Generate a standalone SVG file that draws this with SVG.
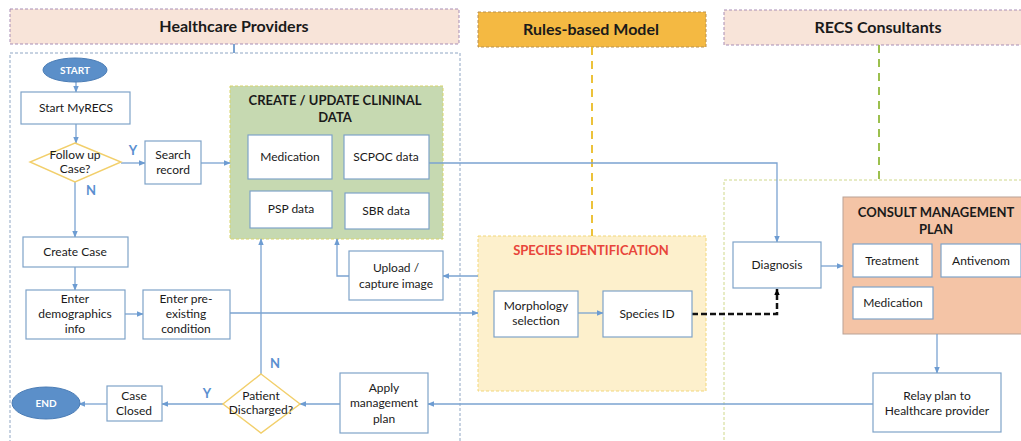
<svg xmlns="http://www.w3.org/2000/svg" width="1021" height="441" viewBox="0 0 1021 441">
<defs>
<marker id="ar" viewBox="0 0 10 10" refX="9" refY="5" markerWidth="7" markerHeight="7" orient="auto-start-reverse" markerUnits="userSpaceOnUse"><path d="M0,1 L10,5 L0,9 z" fill="#6d9cd2"/></marker>
<marker id="ak" viewBox="0 0 10 10" refX="9" refY="5" markerWidth="7" markerHeight="7" orient="auto" markerUnits="userSpaceOnUse"><path d="M0,1 L10,5 L0,9 z" fill="#000"/></marker>
<style>
text{font-family:Lato,"Open Sans","Liberation Sans",sans-serif;fill:#1a1a1a;text-anchor:middle}
.t{font-size:12px}
.h{font-size:16px;font-weight:bold}
.g{font-size:13px;font-weight:bold}
.yn{font-size:13px;font-weight:bold;fill:#5b8fd0}
.box{fill:#fff;stroke:#7fa3c9;stroke-width:1.2}
.dia{fill:#fff;stroke:#f2cf6b;stroke-width:1.4}
.c{fill:none;stroke:#7ba3d1;stroke-width:1.3}
.ell{fill:#5b8fc9;stroke:#4a7cb5}
.et{font-size:10px;font-weight:bold;fill:#fff}
</style>
</defs>
<g id="lanes">
<rect x="10" y="9" width="449" height="35" fill="#f8e4d9" stroke="#a88db5" stroke-dasharray="3 2"/>
<text class="h" x="234" y="32">Healthcare Providers</text>
<rect x="10" y="53" width="450" height="395" fill="none" stroke="#8fa6c4" stroke-dasharray="3 2"/>
<line x1="234" y1="44" x2="234" y2="53" stroke="#7ba3d1" stroke-width="2"/>
<rect x="478" y="12" width="228" height="35" fill="#f4b942" stroke="#b89050" stroke-dasharray="3 2"/>
<text class="h" x="591" y="35">Rules-based Model</text>
<line x1="592" y1="47" x2="592" y2="236" stroke="#ecc23a" stroke-width="2" stroke-dasharray="8 6"/>
<rect x="724" y="10" width="310" height="35" fill="#f8e4d9" stroke="#a88db5" stroke-dasharray="3 2"/>
<text class="h" x="878" y="33">RECS Consultants</text>
<line x1="879" y1="45" x2="879" y2="180" stroke="#9cc04e" stroke-width="2" stroke-dasharray="8 6"/>
<rect x="724" y="180" width="310" height="270" fill="none" stroke="#cfd88a" stroke-dasharray="3 2"/>
</g>
<g id="clinical">
<rect x="230" y="86" width="213" height="153" fill="#c6d9b1" stroke="#d8d46a" stroke-dasharray="3 2"/>
<text class="g" x="335" y="105">CREATE / UPDATE CLININAL</text>
<text class="g" x="335" y="122">DATA</text>
</g>
<g id="species">
<rect x="478" y="236" width="228" height="155" fill="#fdf0cc" stroke="#f2d77a" stroke-dasharray="3 2"/>
<text class="g" x="591" y="255" style="fill:#e8453a">SPECIES IDENTIFICATION</text>
</g>
<g id="consult">
<rect x="843" y="197" width="190" height="137" fill="#f4c4a6" stroke="#b9a296"/>
<text class="g" x="936" y="217">CONSULT MANAGEMENT</text>
<text class="g" x="936" y="234">PLAN</text>
</g>
<g id="connectors">
<line class="c" x1="76" y1="82" x2="76" y2="92" marker-end="url(#ar)"/>
<line class="c" x1="76" y1="124" x2="76" y2="143" marker-end="url(#ar)"/>
<line class="c" x1="121" y1="163" x2="145" y2="163" marker-end="url(#ar)"/>
<line class="c" x1="201" y1="163" x2="230" y2="163" marker-end="url(#ar)"/>
<line class="c" x1="75" y1="182" x2="75" y2="237" marker-end="url(#ar)"/>
<line class="c" x1="75" y1="267" x2="75" y2="290" marker-end="url(#ar)"/>
<line class="c" x1="125" y1="314" x2="143" y2="314" marker-end="url(#ar)"/>
<line class="c" x1="230" y1="313" x2="478" y2="313" marker-end="url(#ar)"/>
<line class="c" x1="578" y1="313" x2="603" y2="313" marker-end="url(#ar)"/>
<line class="c" x1="478" y1="276" x2="443" y2="276" marker-end="url(#ar)"/>
<polyline class="c" points="349,276 337,276 337,239" marker-end="url(#ar)"/>
<line class="c" x1="261" y1="374" x2="261" y2="239" marker-end="url(#ar)"/>
<polyline class="c" points="429,163 777,163 777,242" marker-end="url(#ar)"/>
<line class="c" x1="821" y1="266" x2="843" y2="266" marker-end="url(#ar)"/>
<line class="c" x1="937" y1="334" x2="937" y2="373" marker-end="url(#ar)"/>
<line class="c" x1="873" y1="404" x2="428" y2="404" marker-end="url(#ar)"/>
<line class="c" x1="340" y1="404" x2="300" y2="404" marker-end="url(#ar)"/>
<line class="c" x1="223" y1="404" x2="162" y2="404" marker-end="url(#ar)"/>
<line class="c" x1="107" y1="404" x2="79" y2="404" marker-end="url(#ar)"/>
<polyline points="692,314 777,314 777,289" fill="none" stroke="#111" stroke-width="2.5" stroke-dasharray="6 3" marker-end="url(#ak)"/>
<text class="yn" x="133" y="155">Y</text>
<text class="yn" x="91" y="195">N</text>
<text class="yn" x="275" y="368">N</text>
<text class="yn" x="207" y="398">Y</text>
</g>
<g id="start"><ellipse class="ell" cx="75" cy="70" rx="32" ry="12"/><text class="et" x="75" y="74">START</text></g>
<g id="startmyrecs"><rect class="box" x="21" y="92" width="109" height="32"/><text class="t" x="76" y="112">Start MyRECS</text></g>
<g id="followup"><polygon class="dia" points="75,143 121,162 75,182 30,162"/><text class="t" x="75" y="159">Follow up</text><text class="t" x="75" y="173">Case?</text></g>
<g id="search"><rect class="box" x="145" y="141" width="56" height="43"/><text class="t" x="173" y="159">Search</text><text class="t" x="173" y="174">record</text></g>
<g id="medication"><rect class="box" x="248" y="135" width="84" height="44"/><text class="t" x="290" y="161">Medication</text></g>
<g id="scpoc"><rect class="box" x="344" y="135" width="85" height="44"/><text class="t" x="386" y="161">SCPOC data</text></g>
<g id="psp"><rect class="box" x="250" y="191" width="82" height="37"/><text class="t" x="291" y="213">PSP data</text></g>
<g id="sbr"><rect class="box" x="345" y="193" width="84" height="36"/><text class="t" x="386" y="215">SBR data</text></g>
<g id="createcase"><rect class="box" x="23" y="237" width="105" height="30"/><text class="t" x="75" y="256">Create Case</text></g>
<g id="demographics"><rect class="box" x="26" y="290" width="99" height="49"/><text class="t" x="75" y="303">Enter</text><text class="t" x="75" y="318">demographics</text><text class="t" x="75" y="333">info</text></g>
<g id="preexisting"><rect class="box" x="143" y="290" width="87" height="49"/><text class="t" x="186" y="303">Enter pre-</text><text class="t" x="186" y="318">existing</text><text class="t" x="186" y="333">condition</text></g>
<g id="upload"><rect class="box" x="349" y="251" width="94" height="49"/><text class="t" x="396" y="272">Upload /</text><text class="t" x="396" y="288">capture image</text></g>
<g id="morphology"><rect class="box" x="494" y="291" width="84" height="46"/><text class="t" x="536" y="310">Morphology</text><text class="t" x="536" y="325">selection</text></g>
<g id="speciesid"><rect class="box" x="603" y="291" width="89" height="46"/><text class="t" x="647" y="318">Species ID</text></g>
<g id="diagnosis"><rect class="box" x="733" y="242" width="88" height="46"/><text class="t" x="777" y="269">Diagnosis</text></g>
<g id="treatment"><rect class="box" x="853" y="244" width="79" height="33"/><text class="t" x="892" y="265">Treatment</text></g>
<g id="antivenom"><rect class="box" x="941" y="244" width="80" height="33"/><text class="t" x="981" y="265">Antivenom</text></g>
<g id="medication2"><rect class="box" x="853" y="287" width="80" height="32"/><text class="t" x="893" y="307">Medication</text></g>
<g id="relay"><rect class="box" x="873" y="373" width="128" height="59"/><text class="t" x="937" y="400">Relay plan to</text><text class="t" x="937" y="415">Healthcare provider</text></g>
<g id="apply"><rect class="box" x="340" y="373" width="88" height="60"/><text class="t" x="384" y="392">Apply</text><text class="t" x="384" y="407">management</text><text class="t" x="384" y="423">plan</text></g>
<g id="discharged"><polygon class="dia" points="261,374 300,404 261,433 223,404"/><text class="t" x="261" y="400">Patient</text><text class="t" x="261" y="414">Discharged?</text></g>
<g id="caseclosed"><rect class="box" x="107" y="386" width="55" height="35"/><text class="t" x="134" y="400">Case</text><text class="t" x="134" y="415">Closed</text></g>
<g id="end"><ellipse class="ell" cx="46" cy="403" rx="34" ry="16"/><text class="et" x="46" y="407">END</text></g>
</svg>
